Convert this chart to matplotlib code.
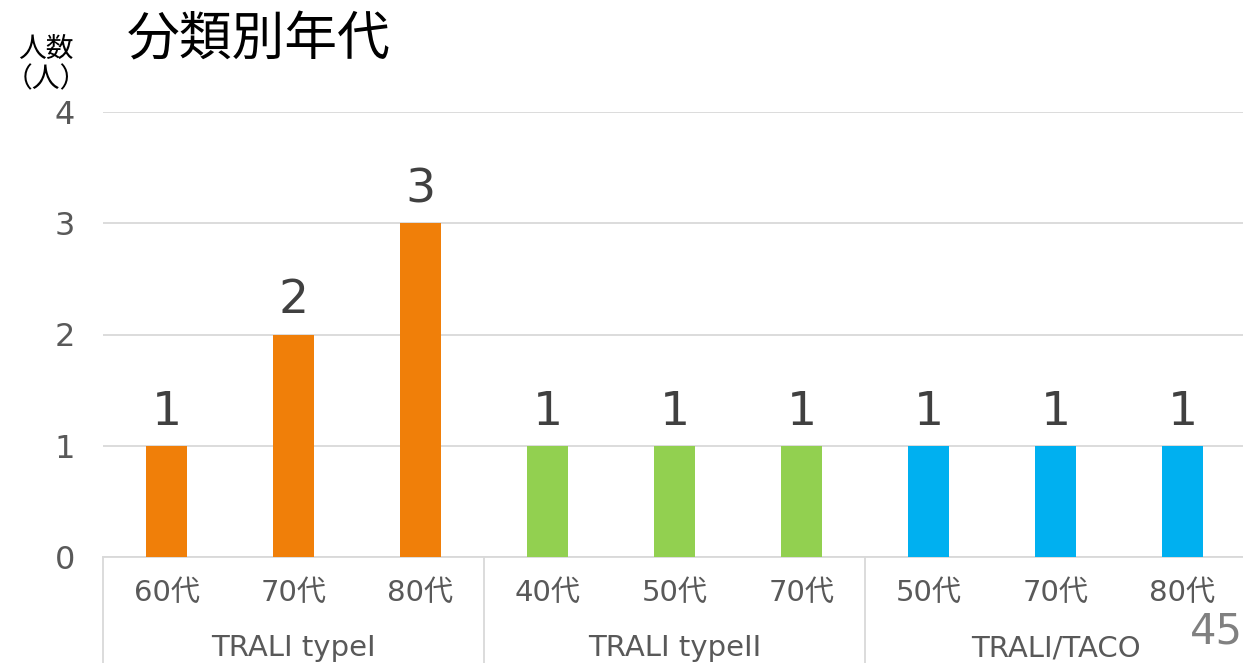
import numpy as np
import matplotlib.pyplot as plt
import matplotlib.transforms as mtransforms

plt.rcParams['font.family'] = ['DejaVu Sans', 'Noto Sans CJK JP']

# Daten
gruppen = ['TRALI typeI', 'TRALI typeII', 'TRALI/TACO']
alter = [['60代', '70代', '80代'],
         ['40代', '50代', '70代'],
         ['50代', '70代', '80代']]
anzahl = [[1, 2, 3],
          [1, 1, 1],
          [1, 1, 1]]
farben = ['#F07F09', '#92D050', '#00B0F0']

fig = plt.figure(figsize=(12.43, 6.63), dpi=100)
ax = fig.add_axes([103/1243, 106/663, 1143/1243, 445/663])

x = 0
ticks, ticklabels = [], []
for g in range(len(gruppen)):
    xs = np.arange(x, x + len(alter[g]))
    ax.bar(xs, anzahl[g], width=0.315, color=farben[g], zorder=3)
    for xi, v in zip(xs, anzahl[g]):
        ax.text(xi, v + 0.1, str(v), ha='center', va='bottom',
                fontsize=34, color='#404040')
    ticks += list(xs)
    ticklabels += alter[g]
    x += len(alter[g])

ax.set_xlim(-0.5, x - 0.5)
ax.set_ylim(0, 4)
ax.set_yticks([0, 1, 2, 3, 4])
ax.grid(axis='y', color='#D9D9D9', linewidth=1.3, zorder=0)
for s in ['top', 'right', 'left']:
    ax.spines[s].set_visible(False)
ax.spines['bottom'].set_color('#D9D9D9')
ax.spines['bottom'].set_linewidth(1.3)
ax.tick_params(axis='y', length=0, labelsize=23, labelcolor='#595959', pad=20)
ax.set_xticks(ticks)
ax.set_xticklabels(ticklabels)
ax.tick_params(axis='x', length=0, labelsize=21, labelcolor='#595959', pad=16)

# Gruppen-Beschriftung und Trennlinien
trans = mtransforms.blended_transform_factory(ax.transData, ax.transAxes)
x = 0
for g in range(len(gruppen)):
    n = len(alter[g])
    ax.plot([x - 0.5, x - 0.5], [0, -0.24], transform=trans, color='#D9D9D9',
            linewidth=1.3, clip_on=False)
    ax.text(x + (n - 1) / 2, -0.205, gruppen[g], transform=trans, ha='center',
            va='center', fontsize=21, color='#595959')
    x += n
ax.plot([x - 0.5, x - 0.5], [0, -0.24], transform=trans, color='#D9D9D9',
        linewidth=1.3, clip_on=False)

fig.text(127/1243, 1 - 40/663, '分類別年代', fontsize=38, color='black',
         ha='left', va='center', family='Noto Sans CJK JP')
fig.text(46/1243, 1 - 64/663, '人数\n（人）', fontsize=20, color='black',
         ha='center', va='center', linespacing=1.0, family='Noto Sans CJK JP')
fig.text(1243/1243, 1 - 632/663, '45', fontsize=30, color='#808080',
         ha='right', va='center')

fig.savefig('out.png', dpi=100)
